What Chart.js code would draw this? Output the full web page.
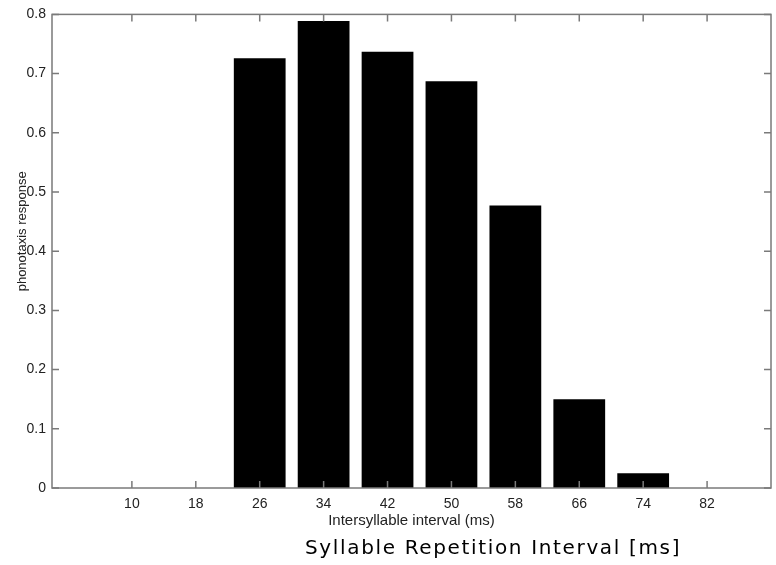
<!DOCTYPE html>
<html lang="en">
<head>
    <meta charset="UTF-8">
    <title>Phonotaxis response</title>
    <script src="https://cdn.jsdelivr.net/npm/chart.js"></script>
    <style>
        html, body {
            margin: 0;
            padding: 0;
            background: #ffffff;
        }

        .wrap {
            position: relative;
            width: 776px;
            height: 565px;
        }

        .bottom-label {
            position: absolute;
            left: 305px;
            top: 535px;
            font-family: 'DejaVu Sans', sans-serif;
            font-size: 20px;
            letter-spacing: 1.65px;
            color: #000;
            white-space: nowrap;
        }
    </style>
</head>
<body>
    <div class="wrap">
        <canvas id="rateChart" width="776" height="565"></canvas>
        <div class="bottom-label">Syllable Repetition Interval [ms]</div>
    </div>

    <script>
        // intersyllable intervals (ms) and measured response
        const intervals = [10, 18, 26, 34, 42, 50, 58, 66, 74, 82];
        const response = [0, 0, 0.726, 0.789, 0.737, 0.687, 0.477, 0.150, 0.025, 0];
        const yTicks = [0, 0.1, 0.2, 0.3, 0.4, 0.5, 0.6, 0.7, 0.8];

        const axisGray = '#7a7a7a';
        const textColor = '#222';

        // box around the plot + inward tick marks on all four sides
        const frameTicks = {
            id: 'frameTicks',
            afterDraw(chart) {
                const { ctx, chartArea: a, scales: { x, y } } = chart;
                const len = 7;
                ctx.save();
                ctx.strokeStyle = axisGray;
                ctx.lineWidth = 1.5;
                ctx.strokeRect(a.left, a.top, a.right - a.left, a.bottom - a.top);
                ctx.beginPath();
                intervals.forEach(v => {
                    const px = x.getPixelForValue(v);
                    ctx.moveTo(px, a.bottom); ctx.lineTo(px, a.bottom - len);
                    ctx.moveTo(px, a.top); ctx.lineTo(px, a.top + len);
                });
                yTicks.forEach(v => {
                    const py = y.getPixelForValue(v);
                    ctx.moveTo(a.left, py); ctx.lineTo(a.left + len, py);
                    ctx.moveTo(a.right, py); ctx.lineTo(a.right - len, py);
                });
                ctx.stroke();
                ctx.restore();
            }
        };

        new Chart(document.getElementById('rateChart'), {
            type: 'bar',
            data: {
                datasets: [{
                    data: intervals.map((v, i) => ({ x: v, y: response[i] })),
                    backgroundColor: '#000000',
                    borderWidth: 0,
                    barPercentage: 0.81,
                    categoryPercentage: 1.0
                }]
            },
            options: {
                responsive: false,
                animation: false,
                layout: { padding: { left: 0, right: 5, top: 12, bottom: 33 } },
                plugins: {
                    legend: { display: false },
                    tooltip: { enabled: false }
                },
                scales: {
                    x: {
                        type: 'linear',
                        offset: false,
                        min: 0,
                        max: 90,
                        afterBuildTicks: s => { s.ticks = intervals.map(v => ({ value: v })); },
                        afterFit: s => { s.height = 44; },
                        grid: { display: false, drawTicks: false },
                        border: { display: false },
                        ticks: {
                            padding: 8,
                            color: textColor,
                            font: { family: 'Liberation Sans', size: 14 }
                        },
                        title: {
                            display: true,
                            text: 'Intersyllable interval (ms)',
                            color: textColor,
                            font: { family: 'Liberation Sans', size: 15 },
                            padding: { top: 0, bottom: 2 }
                        }
                    },
                    y: {
                        min: 0,
                        max: 0.8,
                        afterBuildTicks: s => { s.ticks = yTicks.map(v => ({ value: v })); },
                        afterFit: s => { s.width = 52; },
                        grid: { display: false, drawTicks: false },
                        border: { display: false },
                        ticks: {
                            padding: 6,
                            color: textColor,
                            font: { family: 'Liberation Sans', size: 14 },
                            callback: v => v === 0 ? '0' : v.toFixed(1)
                        },
                        title: {
                            display: true,
                            // leading spaces nudge the label upwards, as in the original
                            text: '           phonotaxis response',
                            color: textColor,
                            font: { family: 'Liberation Sans', size: 13 },
                            padding: { top: 15, bottom: 0 }
                        }
                    }
                }
            },
            plugins: [frameTicks]
        });
    </script>
</body>
</html>
